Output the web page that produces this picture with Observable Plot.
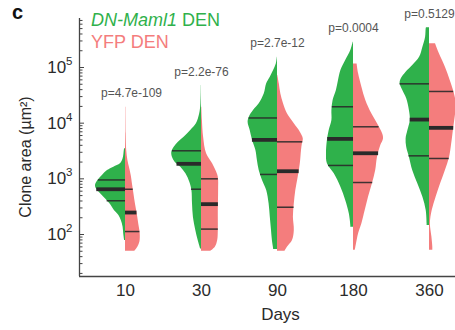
<!DOCTYPE html>
<html><head><meta charset="utf-8">
<script src="https://cdn.jsdelivr.net/npm/d3@7"></script>
<script src="https://cdn.jsdelivr.net/npm/@observablehq/plot@0.6"></script>
<style>body{margin:0;background:#fff;} svg{display:block}</style>
</head><body><div id="chart"></div>
<script>
// Categories and p-values
const days = ["10", "30", "90", "180", "360"];
const pValues = ["p=4.7e-109", "p=2.2e-76", "p=2.7e-12", "p=0.0004", "p=0.5129"];

// Violin outlines: [clone area (µm²), relative density (half-width, 1 = widest)]
const green10 = [[3470,0.03],[3230,0.04],[2290,0.08],[1860,0.17],[1620,0.39],[1410,0.6],[1150,0.77],[933,0.92],[760,1.0],[662,0.97],[538,0.83],[438,0.67],[356,0.52],[270,0.37],[219,0.22],[178,0.14],[135,0.08],[103,0.06],[78,0.03]];
const salmon10 = [[19400,0.01],[6450,0.02],[3230,0.04],[2140,0.08],[1620,0.13],[1150,0.19],[815,0.23],[538,0.28],[356,0.33],[235,0.39],[156,0.44],[103,0.49],[73,0.48],[59,0.41],[50,0.31]];
const green30 = [[47400,0.005],[22300,0.02],[14700,0.06],[9730,0.17],[7380,0.36],[5600,0.58],[4550,0.77],[3700,0.91],[3010,0.99],[2450,0.97],[1990,0.88],[1620,0.69],[1230,0.52],[869,0.39],[617,0.32],[356,0.3],[204,0.27],[118,0.19],[78,0.11],[55,0.03]];
const salmon30 = [[19400,0.01],[11200,0.03],[5600,0.07],[2810,0.17],[1860,0.37],[1410,0.48],[1070,0.56],[617,0.57],[270,0.56],[118,0.56],[78,0.54],[59,0.46],[50,0.31]];
const green90 = [[153000,0.005],[116000,0.04],[88300,0.13],[67000,0.24],[50900,0.36],[33700,0.44],[22300,0.61],[16900,0.8],[12800,0.94],[10400,0.98],[7380,0.91],[4880,0.83],[3230,0.72],[2130,0.67],[1410,0.61],[933,0.5],[617,0.36],[356,0.28],[204,0.24],[118,0.2],[78,0.17],[55,0.13],[54,0.13]];
const salmon90 = [[71800,0.01],[50900,0.06],[33700,0.11],[22300,0.2],[14700,0.33],[9730,0.56],[6890,0.76],[5220,0.86],[4250,0.83],[3230,0.8],[1860,0.76],[1070,0.69],[617,0.61],[356,0.56],[204,0.53],[118,0.56],[78,0.5],[59,0.33],[50,0.25]];
const green180 = [[285000,0.01],[202000,0.09],[134000,0.26],[88300,0.42],[58400,0.5],[38600,0.57],[25500,0.68],[16900,0.72],[11200,0.72],[7380,0.81],[4880,0.87],[2810,0.9],[1860,0.87],[1230,0.64],[707,0.42],[408,0.26],[235,0.14],[145,0.09],[135,0.09]];
const salmon180 = [[116000,0.12],[76900,0.17],[44300,0.28],[25500,0.41],[14700,0.61],[9730,0.8],[6430,0.97],[5220,1.0],[3970,0.91],[2450,0.8],[1410,0.74],[813,0.63],[468,0.5],[270,0.39],[156,0.28],[103,0.17],[68,0.1],[52,0.06]];
const green360 = [[516000,0.1],[495000,0.11],[351000,0.13],[232000,0.22],[153000,0.33],[109000,0.56],[82500,0.78],[62600,0.94],[50900,0.98],[38600,0.89],[27400,0.76],[16900,0.67],[11200,0.64],[7380,0.72],[5220,0.78],[3700,0.76],[2450,0.67],[1410,0.56],[813,0.39],[468,0.22],[270,0.11],[156,0.08],[145,0.08]];
const salmon360 = [[266000,0.2],[176000,0.33],[101000,0.53],[58400,0.69],[33700,0.83],[22300,0.89],[14700,0.87],[8470,0.81],[4250,0.74],[2450,0.67],[1410,0.53],[813,0.37],[468,0.22],[270,0.09],[156,0.03],[90,0.08],[59,0.11],[52,0.11]];

// Quartiles [Q1, median, Q3] per day
const greenQuartiles = [[404,650,955],[651,1860,3190],[1200,5010,12400],[1740,5220,19700],[2590,11600,50900]];
const salmonQuartiles = [[113,248,650],[125,351,1000],[309,1370,4620],[859,2880,8610],[2320,8240,37100]];

const greenViolins = [green10, green30, green90, green180, green360];
const salmonViolins = [salmon10, salmon30, salmon90, salmon180, salmon360];

const GREEN = "#2fb14b", SALMON = "#f47d7d", INK = "#2a2a2a", AXIS = "#444";
const STEP = 76;                 // px per category
const W = 30 / STEP;             // max half width in x units
const xDomain = [-46 / STEP, 330 / STEP];
const yDomain = [17.6, 7.59e5];

function widthAt(outline, v) {
  const lv = Math.log10(v);
  for (let k = 0; k < outline.length - 1; k++) {
    const la = Math.log10(outline[k][0]), lb = Math.log10(outline[k + 1][0]);
    if (lv <= la && lv >= lb) {
      const t = la === lb ? 0 : (la - lv) / (la - lb);
      return outline[k][1] + t * (outline[k + 1][1] - outline[k][1]);
    }
  }
  return 0;
}

const gRows = [], sRows = [], qThin = [], qMed = [], pRows = [];
days.forEach((d, i) => {
  greenViolins[i].forEach(([v, w]) => gRows.push({i, v, x2: i - w * W}));
  salmonViolins[i].forEach(([v, w]) => sRows.push({i, v, x2: i + w * W}));
  greenQuartiles[i].forEach((v, k) => (k === 1 ? qMed : qThin).push({i, v, x2: i - widthAt(greenViolins[i], v) * W}));
  salmonQuartiles[i].forEach((v, k) => (k === 1 ? qMed : qThin).push({i, v, x2: i + widthAt(salmonViolins[i], v) * W}));
  const top = Math.max(greenViolins[i][0][0], salmonViolins[i][0][0]);
  pRows.push({i, top, p: pValues[i]});
});

const allTicks = d3.scaleLog().domain(yDomain).ticks();
const majorTicks = allTicks.filter(t => Math.abs(Math.log10(t) - Math.round(Math.log10(t))) < 1e-9);
const minorTicks = allTicks.filter(t => !majorTicks.includes(t));

const plot = Plot.plot({
  width: 455, height: 330,
  marginLeft: 79, marginRight: 0, marginTop: 18, marginBottom: 54,
  x: {domain: xDomain},
  y: {type: "log", domain: yDomain},
  style: {fontFamily: "'Liberation Sans', Arial, sans-serif", background: "white", color: "#2b2b2b"},
  marks: [
    Plot.areaX(gRows, {y: "v", x1: "i", x2: "x2", z: "i", fill: GREEN, curve: "catmull-rom"}),
    Plot.areaX(sRows, {y: "v", x1: "i", x2: "x2", z: "i", fill: SALMON, curve: "catmull-rom"}),
    Plot.ruleY(qThin, {y: "v", x1: "i", x2: "x2", stroke: INK, strokeOpacity: 0.9, strokeWidth: 1.5}),
    Plot.ruleY(qMed, {y: "v", x1: "i", x2: "x2", stroke: INK, strokeWidth: 3.8}),
    Plot.ruleX([xDomain[0]], {stroke: AXIS, strokeWidth: 1.3}),
    Plot.ruleY([yDomain[0]], {stroke: AXIS, strokeWidth: 1.3}),
    Plot.ruleY(minorTicks, {y: d => d, x1: xDomain[0], x2: xDomain[0] + 3.5 / STEP, stroke: AXIS, strokeWidth: 1}),
    Plot.ruleY(majorTicks, {y: d => d, x1: xDomain[0], x2: xDomain[0] + 5 / STEP, stroke: AXIS, strokeWidth: 1}),
    Plot.axisY({ticks: majorTicks, tickSize: 0, tickPadding: 7, fontSize: 17,
      tickFormat: d => "10^" + Math.round(Math.log10(d)), label: null}),
    Plot.axisX({ticks: [0, 1, 2, 3, 4], tickSize: 0, tickPadding: 7, fontSize: 17,
      tickFormat: i => days[i], label: null}),
    Plot.text(["Days"], {x: 2, frameAnchor: "bottom", dx: 3, dy: 31, lineAnchor: "top", fontSize: 17, fill: "#2b2b2b"}),
    Plot.text(pRows.filter(r => r.i === 0), {x: "i", y: "top", text: "p", dx: 6, dy: -18.5, lineAnchor: "top", fontSize: 12, fill: "#555"}),
    Plot.text(pRows.filter(r => r.i > 0), {x: "i", y: "top", text: "p", dy: -18.5, lineAnchor: "top", fontSize: 12, fill: "#555"})
  ]
});

const svg = d3.select(plot);
// superscripts on the y tick labels
svg.selectAll('g[aria-label="y-axis tick label"] text').each(function () {
  const t = this.textContent;
  const [base, exp] = t.split("^");
  const s = d3.select(this);
  s.text(base);
  s.append("tspan").attr("dy", "-8").attr("font-size", "11.5px").text(exp);
});
// y-axis title
svg.append("text")
  .attr("transform", "translate(31,157) rotate(-90)")
  .attr("text-anchor", "middle").attr("font-size", 16).attr("fill", "#2b2b2b")
  .text("Clone area (µm²)");
// legend
const leg1 = svg.append("text").attr("x", 91).attr("y", 26).attr("text-anchor", "start").attr("font-size", 18).attr("fill", GREEN);
leg1.append("tspan").attr("font-style", "italic").text("DN-Maml1");
leg1.append("tspan").text(" DEN");
svg.append("text").attr("x", 91).attr("y", 47.5).attr("text-anchor", "start").attr("font-size", 18).attr("fill", SALMON).text("YFP DEN");
// panel letter
svg.append("text").attr("x", 12).attr("y", 19).attr("text-anchor", "start").attr("font-size", 20).attr("font-weight", "bold").attr("fill", "#111").text("c");

document.getElementById("chart").append(plot);
</script>
</body></html>
